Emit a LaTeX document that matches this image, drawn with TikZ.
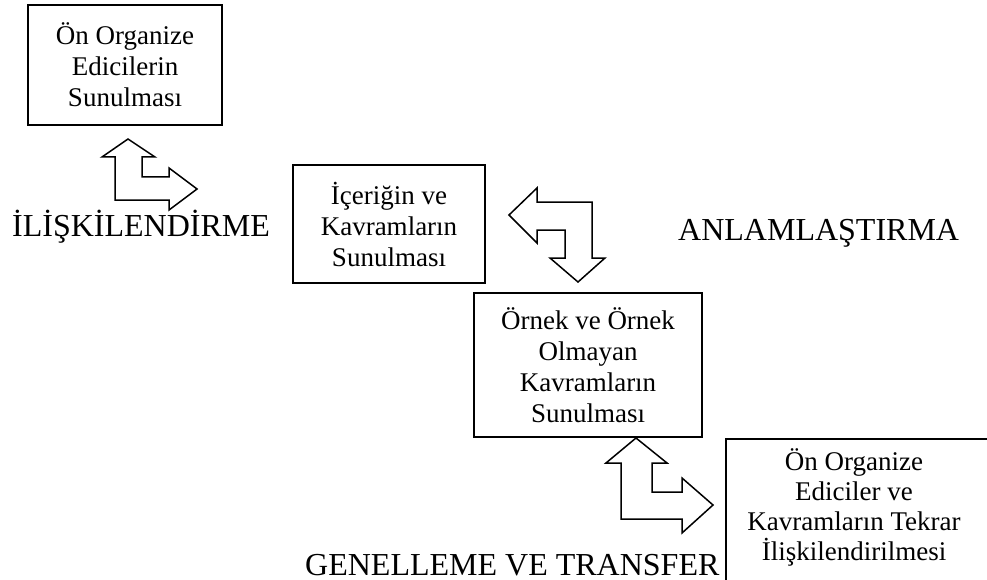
\documentclass[tikz,border=0pt]{standalone}
\usepackage{fontspec}
\setmainfont{Liberation Serif}
\usepackage{tikz}
\usetikzlibrary{positioning}
\tikzset{
  box/.style={draw, line width=1.5pt, align=center, inner sep=0pt, font=\fontsize{27}{31}\selectfont},
  boxtext/.style={align=center, inner sep=0pt, font=\fontsize{27}{30}\selectfont},
  phase/.style={anchor=base west, inner sep=0pt, font=\fontsize{32}{38}\selectfont},
  blockarrow/.style={draw, line width=1.5pt, line join=miter, fill=white}
}

\begin{document}
\begin{tikzpicture}[x=1pt,y=-1pt]
  \useasboundingbox (0,0) rectangle (987,580);
  \clip (0,0) rectangle (987,580);

  % boxes
  \node[box, minimum width=194pt, minimum height=120pt] (onorg) at (125,65) {Ön Organize\\Edicilerin\\Sunulması};
  \node[box, minimum width=192pt, minimum height=118pt] (icerik) at (389,224) {İçeriğin ve\\Kavramların\\Sunulması};
  \node[box, minimum width=228pt, minimum height=144pt] (ornek) at (588,365) {Örnek ve Örnek\\Olmayan\\Kavramların\\Sunulması};
  \node[box, anchor=north west, minimum width=290pt, minimum height=170pt] (tekrar) at (725,438) {};
  \node[boxtext] (tekrartext) at (854,507) {Ön Organize\\Ediciler ve\\Kavramların Tekrar\\İlişkilendirilmesi};

  % block arrows
  \draw[blockarrow] (128,139) -- (155,157) -- (142,157) -- (142,177) -- (169,177) -- (169,168)
    -- (197,189) -- (169,210) -- (169,200) -- (115,200) -- (115,157) -- (102,157) -- cycle;
  \draw[blockarrow] (509,215) -- (537,188) -- (537,202) -- (592,202) -- (592,258) -- (605,258)
    -- (578,282) -- (550,258) -- (565,258) -- (565,230) -- (537,230) -- (537,243) -- cycle;
  \draw[blockarrow] (636,438) -- (667,463) -- (652,463) -- (652,492) -- (682,492) -- (682,478)
    -- (713,505) -- (682,533) -- (682,519) -- (621,519) -- (621,463) -- (606,463) -- cycle;

  % phase labels
  \node[phase] (iliski) at (12,236) {İLİŞKİLENDİRME};
  \node[phase] (anlam) at (678,240) {ANLAMLAŞTIRMA};
  \node[phase] (genel) at (305,575) {GENELLEME VE TRANSFER};
\end{tikzpicture}
\end{document}
